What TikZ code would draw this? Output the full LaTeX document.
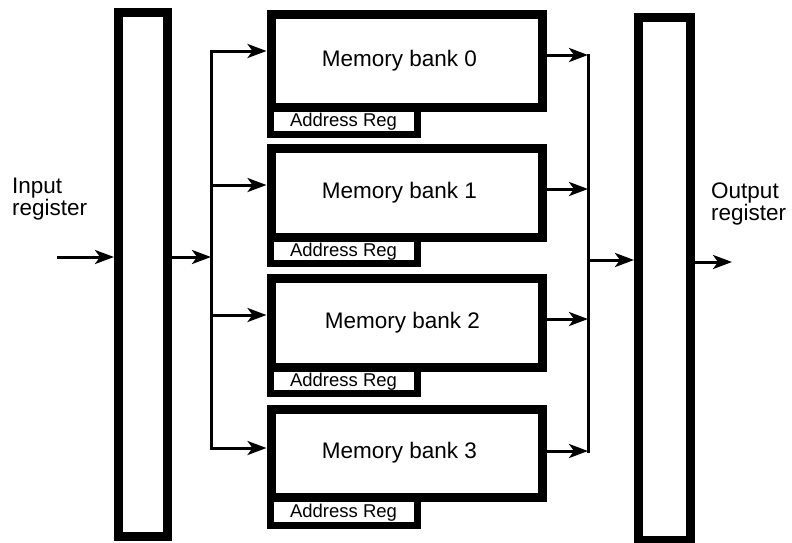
\documentclass[tikz,border=0pt]{standalone}
\usepackage{fontspec}
\setmainfont{Liberation Sans}
\usetikzlibrary{arrows.meta}
\begin{document}
\begin{tikzpicture}[x=1pt,y=-1pt,
  regbar/.style={draw,line width=8.5pt,anchor=north west,inner sep=0pt},
  bankbox/.style={draw,line width=9pt,anchor=north west,inner sep=0pt,
    minimum width=271pt,font=\fontsize{22.5}{27}\selectfont},
  addrbox/.style={draw,line width=7pt,anchor=north west,inner sep=0pt,
    minimum width=147pt,text depth=0pt,font=\fontsize{18.5}{22}\selectfont},
  lbl/.style={anchor=north west,inner sep=0pt,align=left,
    font=\fontsize{22.5}{22}\selectfont},
  wire/.style={line width=3pt,line cap=rect},
  arrow/.style={line width=3pt,-{Stealth[length=19pt,width=14pt,inset=5pt]}},
]
\useasboundingbox (0,0) rectangle (792,542);

% registers
\node[regbar,minimum width=49pt,minimum height=524pt] (inreg) at (114,8) {};
\node[regbar,minimum width=52pt,minimum height=523pt] (outreg) at (634,13) {};

% memory banks and their address registers
\node[addrbox,minimum height=28pt] (addr0) at (266.5,102.5) {Address Reg};
\node[addrbox,minimum height=27pt] (addr1) at (266.5,232.5) {Address Reg};
\node[addrbox,minimum height=27pt] (addr2) at (266.5,362.5) {Address Reg};
\node[addrbox,minimum height=29pt] (addr3) at (266.5,492.5) {Address Reg};
\node[bankbox,minimum height=93pt] (bank0) at (266.5,9.5) {Memory bank 0\hspace*{14pt}};
\node[bankbox,minimum height=89pt] (bank1) at (266.5,143.5) {Memory bank 1\hspace*{14pt}};
\node[bankbox,minimum height=89pt] (bank2) at (266.5,273.5) {Memory bank 2\hspace*{8pt}};
\node[bankbox,minimum height=88pt] (bank3) at (266.5,404.5) {Memory bank 3\hspace*{14pt}};

% labels
\node[lbl] (inlbl) at (12,178) {Input\\register};
\node[lbl] (outlbl) at (711,183) {Output\\register};

% routing points
\coordinate (src) at (57,257);
\coordinate (split) at (211,257);
\coordinate (fan0) at (211,51);
\coordinate (fan1) at (211,185);
\coordinate (fan2) at (211,315);
\coordinate (fan3) at (211,448);
\coordinate (join0) at (588,55);
\coordinate (join1) at (588,189);
\coordinate (join2) at (588,319);
\coordinate (join3) at (588,451);
\coordinate (join) at (588,260);
\coordinate (sink) at (732,262);

% input side
\draw[arrow] (src) -- (src -| inreg.west);
\draw[arrow] (src -| inreg.east) -- (split);
\draw[wire] (fan0) -- (fan3);
\foreach \i in {0,1,2,3}
  \draw[arrow] (fan\i) -- (fan\i -| bank\i.west);

% output side
\draw[wire] (join0) -- (join3);
\foreach \i in {0,1,2,3}
  \draw[arrow] (join\i -| bank\i.east) -- (join\i);
\draw[arrow] (join) -- (join -| outreg.west);
\draw[arrow] (sink -| outreg.east) -- (sink);
\end{tikzpicture}
\end{document}
